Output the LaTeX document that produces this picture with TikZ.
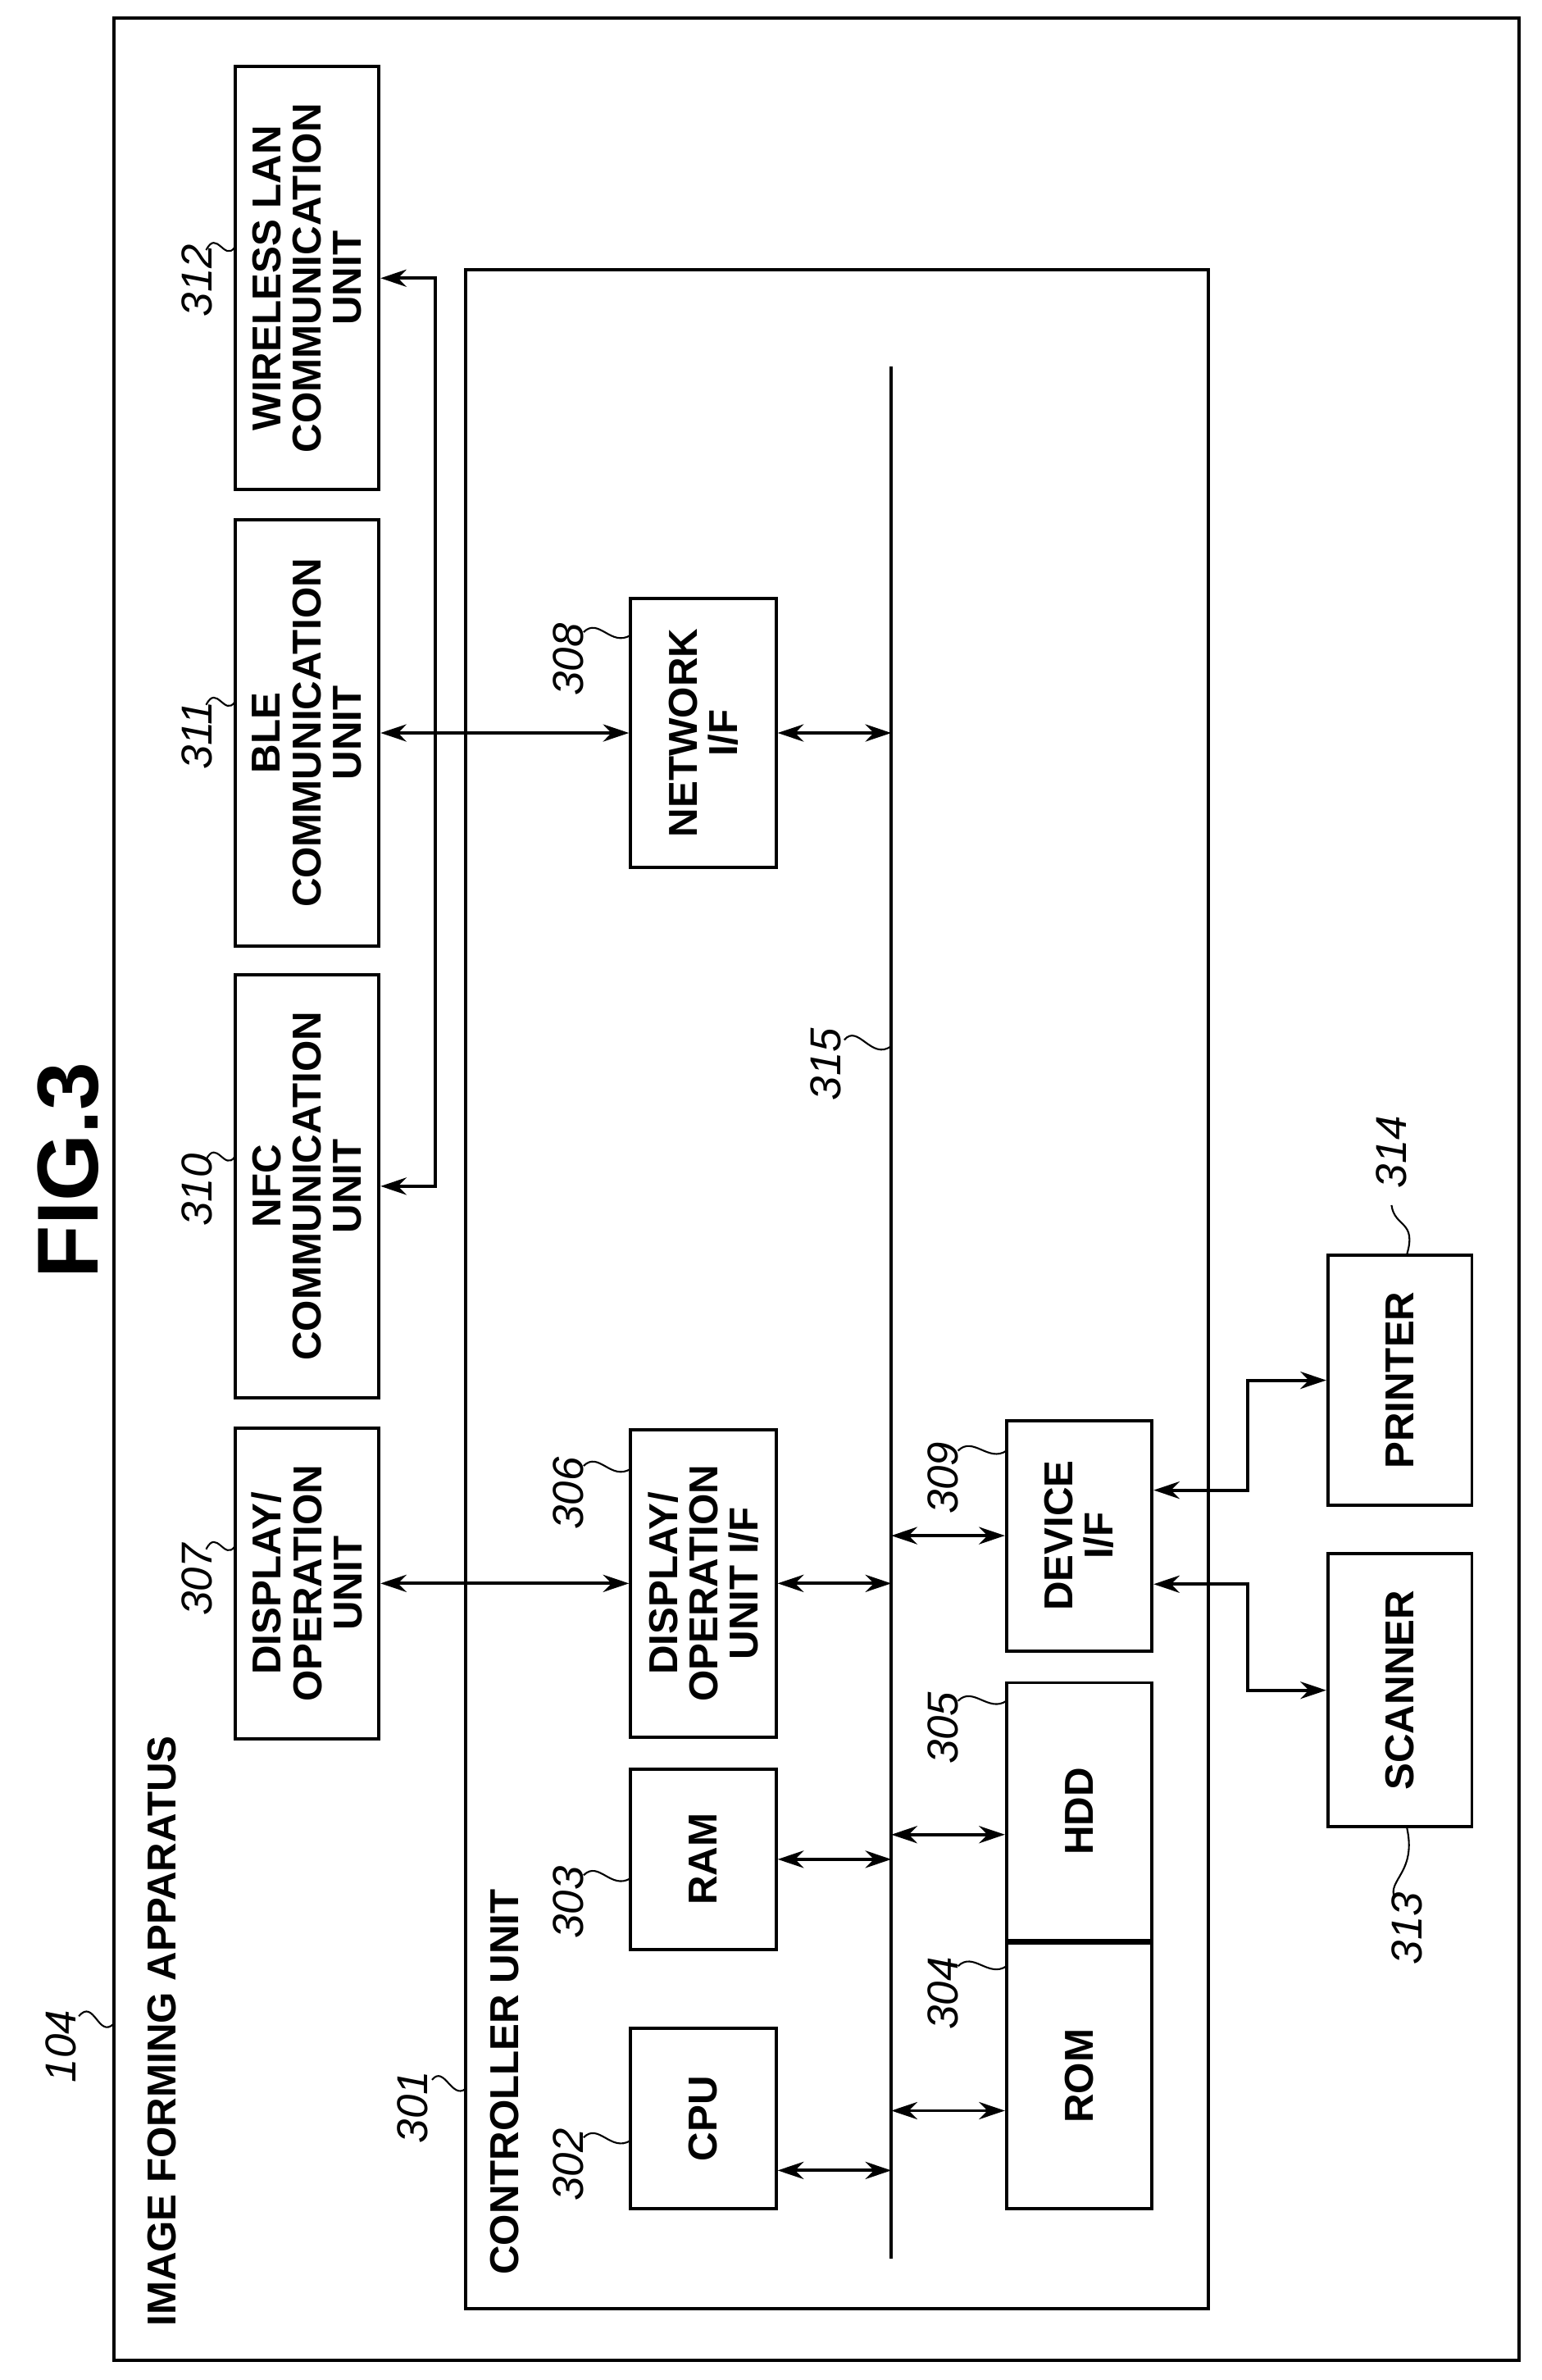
\documentclass[tikz,border=0pt]{standalone}
\usepackage{fontspec}
\setmainfont{Liberation Sans}
\usetikzlibrary{arrows.meta,fit}
\begin{document}
\begin{tikzpicture}[x=0.018486cm,y=-0.018486cm,line width=1.1pt,
  box/.style={draw,inner sep=0pt},
  txt/.style={rotate=90,align=center,font=\fontsize{14}{14}\selectfont\bfseries},
  lbl/.style={rotate=90,font=\fontsize{15}{15}\selectfont\itshape},
  ar/.style={{Stealth[length=9pt,width=6pt]}-{Stealth[length=9pt,width=6pt]}},
  ra/.style={-{Stealth[length=9pt,width=6pt]}},
  ld/.style={line width=0.6pt}]
\path[use as bounding box] (0,0) rectangle (1017,1570);
% outer
\node[box,fit={(75,12)(1002,1557)}] (app) {};
\node[rotate=90,anchor=west,font=\fontsize{14}{14}\selectfont\bfseries] (appt) at (107,1542) {IMAGE FORMING APPARATUS};
\node[lbl] (l104) at (40,1350) {104};
\draw[ld] (52,1330) .. controls (62,1318) and (65,1345) .. (75,1335);
\node[rotate=90,font=\fontsize{30}{30}\selectfont\bfseries] (fig) at (45,772) {FIG.3};
% controller
\node[box,fit={(307,178)(797,1523)}] (ctl) {};
\node[rotate=90,anchor=west,font=\fontsize{14}{14}\selectfont\bfseries] (ctlt) at (333,1508) {CONTROLLER UNIT};
\node[lbl] (l301) at (272,1390) {301};
\draw[ld] (285,1372) .. controls (293,1362) and (298,1385) .. (307,1378);
% bus
\coordinate (bus) at (588,242);
\coordinate (busb) at (588,1490);
\draw (bus) -- (busb);
\node[lbl] (l315) at (545,702) {315};
\draw[ld] (557,686) .. controls (566,675) and (575,700) .. (588,690);
% top row
\node[box,fit={(155,942)(250,1147)}] (disp) {};
\node[txt] at (disp) {DISPLAY/\\OPERATION\\UNIT};
\node[box,fit={(155,643)(250,922)}] (nfc) {};
\node[txt] at (nfc) {NFC\\COMMUNICATION\\UNIT};
\node[box,fit={(155,343)(250,624)}] (ble) {};
\node[txt] at (ble) {BLE\\COMMUNICATION\\UNIT};
\node[box,fit={(155,44)(250,323)}] (wlan) {};
\node[txt] at (wlan) {WIRELESS LAN\\COMMUNICATION\\UNIT};
\node[lbl] (l307) at (130,1042) {307};
\draw[ld] (136,1022) .. controls (143,1008) and (148,1030) .. (155,1020);
\node[lbl] (l310) at (130,785) {310};
\draw[ld] (136,765) .. controls (143,751) and (148,773) .. (155,763);
\node[lbl] (l311) at (130,485) {311};
\draw[ld] (136,465) .. controls (143,451) and (148,473) .. (155,463);
\node[lbl] (l312) at (130,185) {312};
\draw[ld] (136,165) .. controls (143,151) and (148,173) .. (155,163);
% inner left
\node[box,fit={(416,1338)(512,1457)}] (cpu) {};
\node[txt] at (cpu) {CPU};
\node[box,fit={(416,1167)(512,1286)}] (ram) {};
\node[txt] at (ram) {RAM};
\node[box,fit={(416,943)(512,1146)}] (dif) {};
\node[txt] at (dif) {DISPLAY/\\OPERATION\\UNIT I/F};
\node[box,fit={(416,395)(512,572)}] (net) {};
\node[txt] at (net) {NETWORK\\I/F};
\node[lbl] (l302) at (375,1428) {302};
\draw[ld] (385,1410) .. controls (395,1400) and (403,1420) .. (416,1412);
\node[lbl] (l303) at (375,1255) {303};
\draw[ld] (385,1237) .. controls (395,1227) and (403,1247) .. (416,1239);
\node[lbl] (l306) at (375,985) {306};
\draw[ld] (385,967) .. controls (395,957) and (403,977) .. (416,969);
\node[lbl] (l308) at (375,435) {308};
\draw[ld] (385,417) .. controls (395,407) and (403,427) .. (416,419);
% inner right
\node[box,fit={(664,1282)(760,1457)}] (rom) {};
\node[txt] at (rom) {ROM};
\node[box,fit={(664,1110)(760,1280)}] (hdd) {};
\node[txt] at (hdd) {HDD};
\node[box,fit={(664,937)(760,1089)}] (dev) {};
\node[txt] at (dev) {DEVICE\\I/F};
\node[lbl] (l304) at (622,1315) {304};
\draw[ld] (632,1297) .. controls (642,1287) and (652,1305) .. (664,1297);
\node[lbl] (l305) at (622,1140) {305};
\draw[ld] (632,1122) .. controls (642,1112) and (652,1130) .. (664,1122);
\node[lbl] (l309) at (622,975) {309};
\draw[ld] (632,957) .. controls (642,947) and (652,965) .. (664,957);
% scanner printer
\node[box,fit={(876,1025)(971,1205)}] (scn) {};
\node[txt] at (scn) {SCANNER};
\node[box,fit={(876,828)(971,993)}] (prn) {};
\node[txt] at (prn) {PRINTER};
\node[lbl] (l313) at (928,1272) {313};
\draw[ld] (920,1252) .. controls (915,1240) and (935,1235) .. (928,1205);
\node[lbl] (l314) at (918,760) {314};
\draw[ld] (918,795) .. controls (920,810) and (935,805) .. (928,828);
% connectors
\draw[ar] ([yshift=-18]cpu.east) -- ([yshift=-18]cpu.east -| bus);
\draw[ar] (ram.east) -- (ram.east -| bus);
\draw[ar] (dif.east) -- (dif.east -| bus);
\draw[ar] (net.east) -- (net.east -| bus);
\draw[ar] ([yshift=-12]rom.west -| bus) -- ([yshift=-12]rom.west);
\draw[ar] ([yshift=-8]hdd.west -| bus) -- ([yshift=-8]hdd.west);
\draw[ar] (dev.west -| bus) -- (dev.west);
\draw[ar] (disp.east) -- (dif.west);
\draw[ar] (ble.east) -- (net.west);
\coordinate (j) at (287,483.5);
\draw[ra] (j) |- (wlan.east);
\draw[ra] (j) |- (nfc.east);
\coordinate (pa) at (823,983);
\coordinate (sa) at (823,1045);
\draw[ar] (dev.east |- pa) -- (pa) |- (prn.west);
\draw[ar] (dev.east |- sa) -- (sa) |- (scn.west);
\end{tikzpicture}
\end{document}
